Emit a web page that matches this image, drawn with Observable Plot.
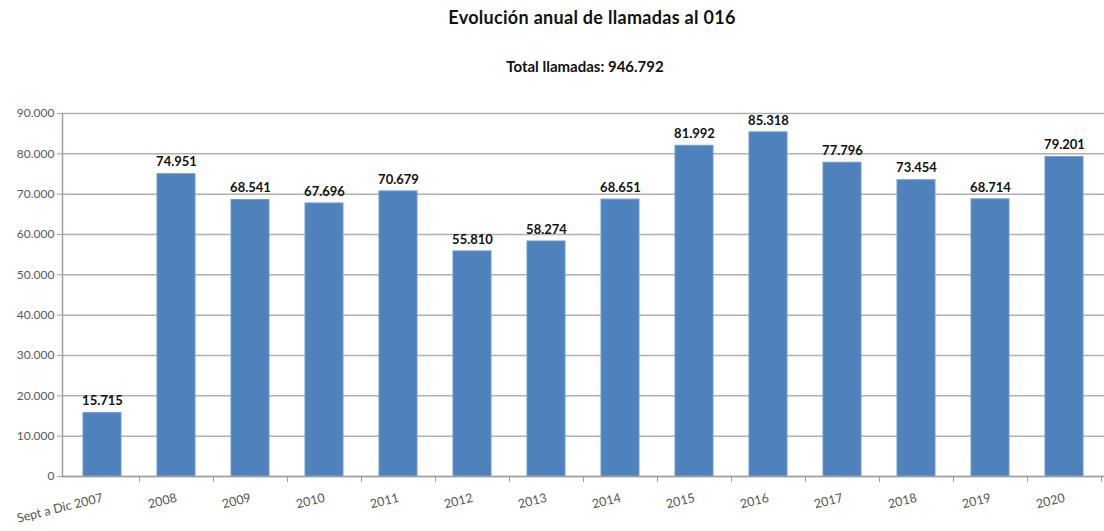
<!DOCTYPE html>
<html><head><meta charset="utf-8">
<script src="https://cdn.jsdelivr.net/npm/d3@7"></script>
<script src="https://cdn.jsdelivr.net/npm/@observablehq/plot@0.6"></script>
<style>
body{margin:0;background:#fff;font-family:Lato,"DejaVu Sans",sans-serif;}
.hd{position:relative;height:45px;}
.hd div{position:absolute;width:1104px;text-align:center;font-weight:bold;color:#111;}
</style></head><body>
<div class="hd"><div style="top:6px;left:40px;font-size:18px;letter-spacing:0.3px;">Evolución anual de llamadas al 016</div></div>
<div class="hd"><div style="top:12px;left:33px;font-size:15px;">Total llamadas: 946.792</div></div>
<div id="chart"></div>
<script>
const categories = ["Sept a Dic 2007","2008","2009","2010","2011","2012","2013","2014","2015","2016","2017","2018","2019","2020"];
const values = [15715,74951,68541,67696,70679,55810,58274,68651,81992,85318,77796,73454,68714,79201];
const yTicks = [0,10000,20000,30000,40000,50000,60000,70000,80000,90000];

const loc = d3.formatLocale({decimal:",", thousands:".", grouping:[3], currency:["","€"]});
const fmt = loc.format(",");
const data = categories.map((c,i)=>({cat:c, v:values[i]}));

const chart = Plot.plot({
  width:1104, height:441,
  marginLeft:62, marginRight:0, marginTop:23, marginBottom:55,
  style:{fontFamily:"Lato, 'DejaVu Sans', sans-serif", fontSize:"12px", color:"#595959", overflow:"visible"},
  x:{domain:categories, paddingInner:0.49, paddingOuter:0.245, label:null},
  y:{domain:[0,90000], label:null},
  marks:[
    Plot.gridY(yTicks, {stroke:"#b0b0b0", strokeOpacity:1, strokeWidth:1.5}),
    Plot.axisY(yTicks, {tickSize:5, tickFormat:fmt, stroke:"#a0a0a0", fill:"#595959", tickPadding:3, fontSize:12}),
    Plot.barY(data, {x:"cat", y:"v", fill:"#4F81BD", stroke:"#6f9bd0", strokeWidth:1}),
    Plot.text(data, {x:"cat", y:"v", text:d=>fmt(d.v), dy:-12, fontWeight:"bold", fill:"#111", fontSize:13}),
    Plot.ruleY([0], {stroke:"#a0a0a0", strokeWidth:1.5}),
    Plot.frame({anchor:"left", stroke:"#a0a0a0", strokeWidth:1.5}),
    Plot.axisX({tickSize:6, text:null, dx:37, stroke:"#a0a0a0"}),
    Plot.axisX({tickSize:0, tickRotate:-14, tickPadding:21, fill:"#555", fontSize:12.5})
  ]
});
document.getElementById("chart").appendChild(chart);
</script>
</body></html>
